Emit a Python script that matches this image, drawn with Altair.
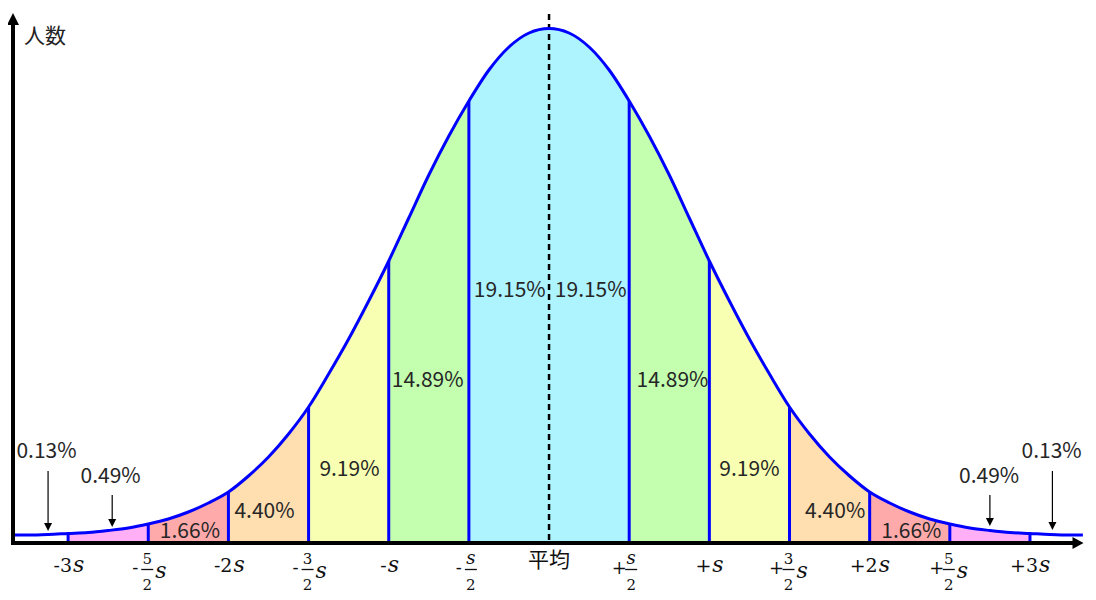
import altair as alt
import pandas as pd

# ---------------- data ----------------
# curve: x in units of s, height in px above the baseline
CURVE_X = [-3.34, -3.25, -3.125, -3.0, -2.875, -2.75, -2.625, -2.5, -2.375, -2.25, -2.125,
           -2.0, -1.875, -1.75, -1.625, -1.5, -1.375, -1.25, -1.125, -1.0, -0.875, -0.75,
           -0.625, -0.5, -0.375, -0.25, -0.125, 0.0, 0.125, 0.25, 0.375, 0.5, 0.625, 0.75,
           0.875, 1.0, 1.125, 1.25, 1.375, 1.5, 1.625, 1.75, 1.875, 2.0, 2.125, 2.25, 2.375,
           2.5, 2.625, 2.75, 2.875, 3.0, 3.125, 3.25, 3.33]
CURVE_H = [6, 6, 6.5, 7.5, 8.5, 10.5, 13, 17, 22, 29, 38,
           49, 65, 84, 107, 134, 167, 202, 240, 280, 323, 366,
           405, 440, 471, 494, 508, 512.5, 508, 494, 471, 440, 405, 366,
           323, 280, 240, 202, 167, 134, 107, 84, 65, 49, 38, 29, 22,
           17, 13, 10.5, 8.5, 7.5, 6.5, 6, 6]

BAND_EDGES = [-3.0, -2.5, -2.0, -1.5, -1.0, -0.5, 0.5, 1.0, 1.5, 2.0, 2.5, 3.0]
BAND_TIER = ["t6", "t5", "t4", "t3", "t2", "t1", "t2", "t3", "t4", "t5", "t6"]
TIER_COLORS = {"t1": "#AEF4FF", "t2": "#C4FFB0", "t3": "#F9FFB2",
               "t4": "#FFDEB0", "t5": "#FFAAAA", "t6": "#FFAFF5"}

PCT_TEXT = ["19.15%", "19.15%", "14.89%", "14.89%", "9.19%", "9.19%",
            "4.40%", "4.40%", "1.66%", "1.66%", "0.49%", "0.49%", "0.13%", "0.13%"]
PCT_X = [-0.245, 0.26, -0.757, 0.77, -1.245, 1.25, -1.775, 1.785, -2.24, 2.26,
         -2.735, 2.745, -3.135, 3.135]
PCT_H = [250, 250, 160, 160, 71, 71, 29, 29, 9, 9, 64, 64, 89, 89]

ARROW_X = [-2.725, 2.75, -3.125, 3.14]
ARROW_TOP = [46, 46, 70, 70]
ARROW_TIP = [14, 15, 10, 11]

TICK_VALUES = [-3.0, -2.5, -2.0, -1.5, -1.0, -0.5, 0.0, 0.5, 1.0, 1.5, 2.0, 2.5, 3.0]
TICK_LABELS = ["-3s", "-5/2s", "-2s", "-3/2s", "-s", "-s/2", "平均",
               "+s/2", "+s", "+3/2s", "+2s", "+5/2s", "+3s"]

Y_TITLE = "人数"
X_MIN, X_MAX = -3.35, 3.337
Y_MAX = 531
MEAN_TOP = 527

# ---------------- scales ----------------
xs = alt.Scale(domain=[X_MIN, X_MAX], nice=False, zero=False)
ys = alt.Scale(domain=[0, Y_MAX], nice=False, zero=False)
X = lambda f="x": alt.X(f"{f}:Q", scale=xs, axis=None)
Y = lambda f="h": alt.Y(f"{f}:Q", scale=ys, axis=None, stack=None)

curve = pd.DataFrame({"x": CURVE_X, "h": CURVE_H})
hmap = dict(zip(CURVE_X, CURVE_H))

rows = []
for i, tier in enumerate(BAND_TIER):
    lo, hi = BAND_EDGES[i], BAND_EDGES[i + 1]
    for xv, hv in zip(CURVE_X, CURVE_H):
        if lo - 1e-9 <= xv <= hi + 1e-9:
            rows.append({"x": xv, "h": hv, "base": 0, "band": i, "tier": tier})
bands = pd.DataFrame(rows)

fills = alt.Chart(bands).mark_area(interpolate="monotone").encode(
    x=X(), y=Y(), y2="base:Q",
    color=alt.Color("tier:N", scale=alt.Scale(domain=list(TIER_COLORS.keys()),
                                              range=list(TIER_COLORS.values())), legend=None),
    detail="band:N",
)

mean_line = alt.Chart(pd.DataFrame({"x": [0.0], "top": [MEAN_TOP], "base": [0]})).mark_rule(
    color="black", strokeWidth=2.5, strokeDash=[6, 4]
).encode(x=X(), y=Y("top"), y2="base:Q")

edges = pd.DataFrame({"x": BAND_EDGES, "h": [hmap[e] for e in BAND_EDGES], "base": 0})
edge_rules = alt.Chart(edges).mark_rule(color="#0000FF", strokeWidth=3).encode(
    x=X(), y=Y(), y2="base:Q")

curve_line = alt.Chart(curve).mark_line(interpolate="monotone", color="#0000FF",
                                        strokeWidth=3).encode(x=X(), y=Y())

# axes with arrows
axis_df = pd.DataFrame({"x": [X_MIN], "x2": [X_MAX], "h": [-2], "top": [520], "bot": [-4]})
x_shaft = alt.Chart(axis_df).mark_rule(color="black", strokeWidth=4, x2Offset=-8).encode(
    x=X(), x2="x2:Q", y=Y())
y_shaft = alt.Chart(axis_df).mark_rule(color="black", strokeWidth=4, xOffset=1).encode(
    x=X(), y=Y("top"), y2="bot:Q")
y_head = alt.Chart(pd.DataFrame({"x": [X_MIN], "h": [522]})).mark_point(
    shape="M0,-1L1,1L-1,1Z", size=144, filled=True, color="black", opacity=1, xOffset=1
).encode(x=X(), y=Y())
x_head = alt.Chart(pd.DataFrame({"x": [X_MAX], "h": [-2]})).mark_point(
    shape="M1,0L-1,-1.1L-1,1.1Z", size=121, filled=True, color="black", opacity=1, xOffset=-6
).encode(x=X(), y=Y())

# percentage labels
pct = pd.DataFrame({"x": PCT_X, "h": PCT_H, "t": PCT_TEXT})
pct_text = alt.Chart(pct).mark_text(font="Noto Sans CJK JP", fontSize=21, color="#262626",
                                    baseline="middle", align="center").encode(
    x=X(), y=Y(), text="t:N")

arr = pd.DataFrame({"x": ARROW_X, "top": ARROW_TOP, "tip": ARROW_TIP})
arr["neck"] = arr["tip"] + 7
arr["hc"] = arr["tip"] + 4
arrow_shaft = alt.Chart(arr).mark_rule(color="black", strokeWidth=1.2).encode(
    x=X(), y=Y("top"), y2="neck:Q")
arrow_head = alt.Chart(arr).mark_point(shape="M0,1L-1,-1L1,-1Z", size=64, filled=True,
                                       color="black", opacity=1).encode(x=X(), y=Y("hc"))

# y title
ytitle = alt.Chart(pd.DataFrame({"x": [X_MIN], "h": [504], "t": [Y_TITLE]})).mark_text(
    font="Noto Sans CJK JP", fontSize=21, color="#222222", align="left", baseline="middle", dx=12
).encode(x=X(), y=Y(), text="t:N")

# tick labels built from the label strings
SERIF = "DejaVu Serif"
STYLES = {
    "prefix": dict(font=SERIF, fontSize=19, baseline="alphabetic", align="right", h=-31),
    "s": dict(font=SERIF, fontSize=22, fontStyle="italic", baseline="alphabetic", align="left", h=-31),
    "sign": dict(font=SERIF, fontSize=18, baseline="middle", align="center", h=-28),
    "num": dict(font=SERIF, fontSize=15, baseline="alphabetic", align="center", h=-22.5),
    "num_s": dict(font=SERIF, fontSize=18, fontStyle="italic", baseline="alphabetic", align="center", h=-22.5),
    "den": dict(font=SERIF, fontSize=15, baseline="alphabetic", align="center", h=-48.5),
    "s_frac": dict(font=SERIF, fontSize=22, fontStyle="italic", baseline="alphabetic", align="left", h=-37),
    "cjk": dict(font="Noto Sans CJK JP", fontSize=21, baseline="middle", align="center", h=-20),
}
CHAR_W = {"-": 6.4, "+": 15.9}  # approximate glyph widths for centring a label group
DIGIT_W, S_W = 12.1, 11.4

parts = []
bars = []
for v, lab in zip(TICK_VALUES, TICK_LABELS):
    if not lab[0] in "+-":
        parts.append((v, lab, "cjk", 0))
        continue
    sign, body = lab[0], lab[1:]
    if "/" in body:
        num, rest = body.split("/")
        den = rest.rstrip("s")
        fx = 2 if num == "s" else -1
        parts.append((v, sign, "sign", fx - 12))
        parts.append((v, num, "num_s" if num == "s" else "num", fx))
        parts.append((v, den, "den", fx))
        bars.append((v, fx))
        if rest.endswith("s"):
            parts.append((v, "s", "s_frac", 7))
    else:
        prefix = sign + body[:-1]
        wp = CHAR_W[sign] + DIGIT_W * (len(prefix) - 1)
        dxp = round((wp - S_W) / 2)
        parts.append((v, prefix, "prefix", dxp))
        parts.append((v, "s", "s", dxp + 1))

pdf = pd.DataFrame(parts, columns=["x", "t", "style", "dx"])
tick_layers = []
for (style, dx), sub in pdf.groupby(["style", "dx"]):
    st = dict(STYLES[style])
    hval = st.pop("h")
    sub = sub.assign(h=hval)
    tick_layers.append(
        alt.Chart(sub).mark_text(color="#111111", dx=int(dx), **st).encode(
            x=X(), y=Y(), text="t:N")
    )
bdf = pd.DataFrame(bars, columns=["x", "dx"]).assign(h=-28.5)
for dx, sub in bdf.groupby("dx"):
    tick_layers.append(
        alt.Chart(sub).mark_rule(color="#111111", strokeWidth=1.3,
                                 xOffset=int(dx) - 6, x2Offset=int(dx) + 6).encode(
            x=X(), x2="x:Q", y=Y())
    )

chart = alt.layer(
    fills, mean_line, edge_rules, curve_line, x_shaft, y_shaft, y_head, x_head,
    pct_text, arrow_shaft, arrow_head, ytitle, *tick_layers
).properties(
    width=1072, height=Y_MAX,
    autosize=alt.AutoSizeParams(type="none"),
    padding={"left": 4, "top": 2, "right": 0, "bottom": 58},
    background="white",
).configure_view(strokeWidth=0)

chart.save("out.html", embed_options={"renderer": "svg", "actions": False})
